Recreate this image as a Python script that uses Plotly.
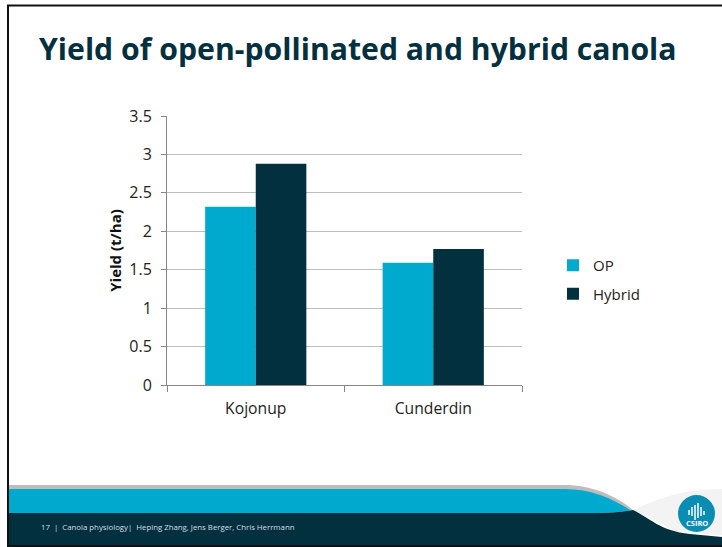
import plotly.graph_objects as go

categories = ["Kojonup", "Cunderdin"]
op_values = [2.32, 1.59]
hybrid_values = [2.88, 1.77]
y_ticks = [0, 0.5, 1, 1.5, 2, 2.5, 3, 3.5]
y_labels = ["0", "0.5", "1", "1.5", "2", "2.5", "3", "3.5"]

W, H = 722, 547
L, R, T, B = 167, 522, 116, 385
FONT = "Open Sans"
DARK = "#03303F"
CYAN = "#00A9CE"

def X(p):
    return (p - L) / (R - L)

def Y(p):
    return (B - p) / (B - T)

def path(cmds):
    s = ""
    for c in cmds:
        if isinstance(c, str):
            s += c
        else:
            s += f"{X(c[0]):.5f},{Y(c[1]):.5f} "
    return s

def shape(cmds, fill):
    return dict(type="path", xref="paper", yref="paper", layer="below",
                path=path(cmds), fillcolor=fill, line=dict(width=0))

shapes = [
    # pale swoosh behind the logo
    shape(["M", (633, 510), "C", (655, 500), (680, 489), (722, 489),
           "L", (722, 535), "L", (677, 532), "Z"], "#F3F3F3"),
    # grey rim
    shape(["M", (8, 485), "L", (565, 485), "C", (590, 485), (615, 495), (633, 510),
           "L", (8, 510), "Z"], "#BDBDBD"),
    # cyan band
    shape(["M", (8, 489), "L", (565, 489), "C", (590, 489), (612, 498), (630, 510),
           "L", (633, 510), "C", (622, 512), (610, 513), (590, 513), "L", (8, 513), "Z"], CYAN),
    # dark band
    shape(["M", (8, 513), "L", (590, 513), "C", (610, 513), (622, 512), (633, 510),
           "C", (650, 518), (660, 531), (690, 534), "L", (722, 537),
           "L", (722, 546), "L", (8, 546), "Z"], DARK),
    # slide frame
    dict(type="rect", xref="paper", yref="paper", x0=X(8), x1=X(724), y0=Y(546), y1=Y(5.5),
         fillcolor="rgba(0,0,0,0)", line=dict(color="#111111", width=2), layer="above"),
    # logo
    dict(type="circle", xref="paper", yref="paper", x0=X(678), x1=X(715), y0=Y(532), y1=Y(495),
         fillcolor="#0A8DB3", line=dict(width=0), layer="above"),
]
for bx, y0, y1 in [(689, 510, 515), (692, 507, 516), (695, 505, 520), (698, 503, 518),
                   (701, 507, 516), (704, 511, 515)]:
    shapes.append(dict(type="line", xref="paper", yref="paper", x0=X(bx), x1=X(bx), y0=Y(y1), y1=Y(y0),
                       line=dict(color="white", width=1.5), layer="above"))

fig = go.Figure()
fig.add_bar(name="OP", x=categories, y=op_values, legendgroup="op",
            marker=dict(color=CYAN, line=dict(width=0)))
fig.add_bar(name="Hybrid", x=categories, y=hybrid_values, legendgroup="hybrid",
            marker=dict(color=DARK, line=dict(width=0)))

fig.update_layout(
    width=W, height=H, autosize=False,
    margin=dict(l=L, r=W - R, t=T, b=H - B, pad=0),
    paper_bgcolor="white", plot_bgcolor="white",
    barmode="group", bargap=0.43, bargroupgap=0,
    font=dict(family=FONT, color="#222222", size=15),
    shapes=shapes,
    legend=dict(x=X(553), y=Y(249), xanchor="left", yanchor="top",
                font=dict(size=15, family=FONT, color="#222222"),
                itemwidth=30, tracegroupgap=6, bgcolor="rgba(0,0,0,0)"),
    annotations=[
        dict(text="<b>Yield of open-pollinated and hybrid canola</b>", xref="paper", yref="paper",
             x=X(37), y=Y(48), xanchor="left", yanchor="middle", showarrow=False,
             font=dict(family=FONT, size=30.2, color=DARK)),
        dict(text="17  |  Canola physiology|  Heping Zhang, Jens Berger, Chris Herrmann", xref="paper", yref="paper",
             x=X(39), y=Y(527), xanchor="left", yanchor="middle", showarrow=False,
             font=dict(family=FONT, size=7.8, color="#D5DEE2")),
        dict(text="<b>CSIRO</b>", xref="paper", yref="paper", x=X(696.5), y=Y(523), xanchor="center", yanchor="middle",
             showarrow=False, font=dict(family=FONT, size=7.5, color="white")),
    ],
)
fig.update_xaxes(showgrid=False, showline=True, linecolor="#868686", linewidth=1,
                 ticks="outside", ticklen=6, tickcolor="#868686", tickson="boundaries",
                 ticklabelstandoff=9,
                 tickfont=dict(size=15.7, color="#222222", family=FONT))
fig.update_yaxes(range=[0, 3.5], tickvals=y_ticks, ticktext=y_labels, showgrid=True,
                 gridcolor="#BDBDBD", gridwidth=1, showline=True, linecolor="#868686", linewidth=1,
                 ticks="outside", ticklen=5, tickcolor="#868686", zeroline=False,
                 ticklabelstandoff=6,
                 tickfont=dict(size=16, color="#222222", family=FONT),
                 title=dict(text="<b>Yield (t/ha)</b>", standoff=4, font=dict(size=15, color="#111111", family=FONT)))
fig.write_html("out.html", config={"displayModeBar": False},
               post_script="document.body.style.margin='0';document.body.style.overflow='hidden';")
